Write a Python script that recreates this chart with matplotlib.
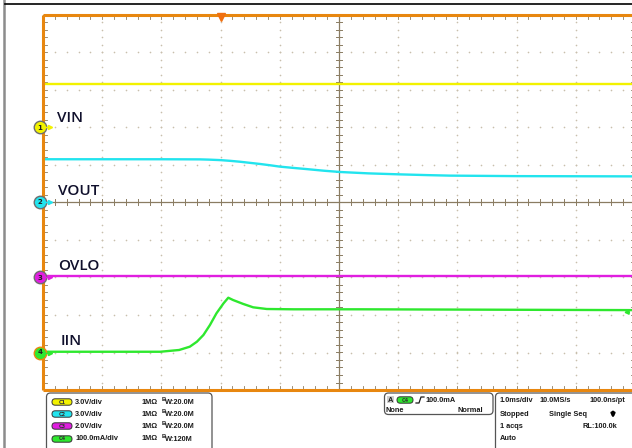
import numpy as np
import matplotlib.pyplot as plt
from matplotlib.patches import FancyBboxPatch, Rectangle

# ---- scope settings ----
t_min, t_max = -3.0, 7.0          # ms, 1.0 ms/div, trigger 3 div from left
ch_names = ["VIN", "VOUT", "OVLO", "IIN"]
ch_scale = [3.0, 3.0, 2.0, 100.0]  # V/div, V/div, V/div, mA/div
ch_pos = [2.0, 0.0, -2.0, -4.0]    # ground marker, divisions from centre
ch_colors = ["#f2f200", "#22e4ee", "#e01ee0", "#2ee82e"]
ch_badge = ["C1", "C2", "C3", "C4"]
ch_scale_txt = ["3.0V/div", "3.0V/div", "2.0V/div", "100.0mA/div"]
ch_bw_txt = ["W:20.0M", "W:20.0M", "W:20.0M", "W:120M"]

# ---- waveforms ----
t_vin = [-3.0, 7.0]
vin = [3.48, 3.48]                 # V

t_vout = [-3.0, -1.0, -0.35, -0.2, 0.0, 0.17, 0.33, 0.5, 0.67, 0.85, 1.0,
          1.2, 1.46, 1.75, 2.02, 2.5, 3.03, 3.5, 3.87, 5.0, 7.0]
vout = [3.46, 3.46, 3.45, 3.43, 3.39, 3.33, 3.26, 3.17, 3.08, 2.97, 2.87,
        2.78, 2.67, 2.54, 2.44, 2.33, 2.25, 2.19, 2.15, 2.11, 2.09]   # V

t_ovlo = [-3.0, 7.0]
ovlo = [0.08, 0.08]                # V

t_iin = [-3.0, -1.02, -0.70, -0.52, -0.40, -0.29, -0.18, -0.07, 0.05, 0.13,
         0.21, 0.38, 0.55, 0.78, 1.23, 2.35, 7.0]
iin = [2, 2, 6.7, 15.5, 28.8, 46.7, 73.3, 104.5, 131.2, 146.1,
       140, 129.6, 120.5, 116, 115.2, 115.2, 113]   # mA

trig_level = 100.0                 # mA on C4

fig = plt.figure(figsize=(6.32, 4.48), dpi=100)
fig.patch.set_facecolor("white")

# background axes in pixel coordinates
bg = fig.add_axes([0, 0, 1, 1])
bg.set_xlim(0, 632)
bg.set_ylim(448, 0)
bg.axis("off")

# scope window border
bg.plot([4, 4], [0, 448], color="#8c8c8c", lw=1.8)
bg.plot([5, 632], [4.5, 4.5], color="black", lw=1.2)

# graticule axes: 10 x 10 divisions
ax = fig.add_axes([43 / 632, (448 - 390) / 448, 592 / 632, 375 / 448])
ax.set_xlim(t_min, t_max)
ax.set_ylim(-5, 5)
ax.axis("off")

dot_col = "#c8bfac"
tick_col = "#8a7c62"

# dotted division lines
minor_y = np.arange(-5, 5.01, 0.2)
minor_x = np.arange(t_min, t_max + 0.01, 0.2)
for xv in range(-2, 7):
    if xv == 2:
        continue
    ax.scatter(np.full(len(minor_y), xv), minor_y, s=1.4, color=dot_col,
               linewidths=0, zorder=1)
for yv in range(-4, 5):
    if yv == 0:
        continue
    ax.scatter(minor_x, np.full(len(minor_x), yv), s=1.4, color=dot_col,
               linewidths=0, zorder=1)

# centre crosshair with ticks
ax.plot([t_min, t_max], [0, 0], color=tick_col, lw=0.9, zorder=2)
ax.plot([2, 2], [-5, 5], color=tick_col, lw=0.9, zorder=2)
dx = 3.0 / 59.2
dy = 3.0 / 37.5
for xv in minor_x:
    ax.plot([xv, xv], [-dy, dy], color=tick_col, lw=0.7, zorder=2)
    ax.plot([xv, xv], [5, 5 - 1.3 * dy], color=tick_col, lw=0.6, zorder=2)
    ax.plot([xv, xv], [-5, -5 + 1.3 * dy], color=tick_col, lw=0.6, zorder=2)
for yv in minor_y:
    ax.plot([2 - dx, 2 + dx], [yv, yv], color=tick_col, lw=0.7, zorder=2)
    ax.plot([t_min, t_min + 1.3 * dx], [yv, yv], color=tick_col, lw=0.6, zorder=2)
    ax.plot([t_max, t_max - 1.3 * dx], [yv, yv], color=tick_col, lw=0.6, zorder=2)

# frame
frame_col = "#e8870f"
for xs, ys in [([t_min, t_max], [5, 5]), ([t_min, t_max], [-5, -5]),
               ([t_min, t_min], [-5, 5]), ([t_max, t_max], [-5, 5])]:
    ax.plot(xs, ys, color=frame_col, lw=2.2, zorder=5, clip_on=False,
            solid_capstyle="butt")

# traces
series = [(t_vin, vin), (t_vout, vout), (t_ovlo, ovlo), (t_iin, iin)]
for i, (tt, vv) in enumerate(series):
    yy = np.array(vv) / ch_scale[i] + ch_pos[i]
    ax.plot(tt, yy, color=ch_colors[i], lw=1.7, zorder=4)

# channel labels
label_y = [2.25, 0.3, -1.7, -3.7]
label_x = [t_min + 14 / 59.2, t_min + 15 / 59.2, t_min + 15 / 59.2, t_min + 18 / 59.2]
for i, name in enumerate(ch_names):
    ax.text(label_x[i], label_y[i], name, fontsize=11, color="#10102c",
            family="Open Sans", fontweight="semibold", va="center", ha="left",
            zorder=6)

# ground markers
for i in range(4):
    edge = "#e8870f" if i == 3 else "#6e6e6e"
    mx = t_min - 3 / 59.2
    ax.plot([mx], [ch_pos[i]], marker="o", ms=9, mfc=ch_colors[i], mec=edge,
            mew=1.0, clip_on=False, zorder=7)
    ax.text(mx, ch_pos[i], str(i + 1), fontsize=5, fontweight="bold",
            ha="center", va="center", color="#202020", zorder=8, clip_on=False)
    ax.plot([t_min + 1 / 59.2, t_min + 7 / 59.2], [ch_pos[i], ch_pos[i]],
            color=ch_colors[i], lw=1.0, zorder=7, clip_on=False)
    ax.plot([t_min + 7 / 59.2], [ch_pos[i]], marker=">", ms=3,
            color=ch_colors[i], zorder=7, clip_on=False)

# trigger position marker and trigger level arrow
ax.plot([0.0], [5 - 2.5 / 37.5], marker="v", ms=6, color="#f07010", zorder=8,
        clip_on=False)
lvl = trig_level / ch_scale[3] + ch_pos[3]
ax.annotate("", xy=(t_max - 14 / 59.2, lvl + 0.07), xytext=(t_max - 3 / 59.2, lvl + 0.07),
            arrowprops=dict(arrowstyle="-|>", color=ch_colors[3], lw=1.2,
                            mutation_scale=6), zorder=8)

# ---- bottom readout panels ----
pf = dict(fontsize=5.3, fontweight="bold", family="Liberation Sans",
          color="#1a1a1a", va="center")

def box(x0, y0, x1, y1):
    bg.add_patch(FancyBboxPatch((x0, y0), x1 - x0, y1 - y0,
                                boxstyle="round,pad=0,rounding_size=4",
                                fc="white", ec="#555555", lw=0.9))

def badge(x, y, w, text, col):
    bg.add_patch(FancyBboxPatch((x, y - 3.2), w, 6.4,
                                boxstyle="round,pad=0,rounding_size=3.2",
                                fc=col, ec="#333333", lw=0.7))
    bg.text(x + w / 2, y, text, fontsize=3.6, fontweight="bold",
            ha="center", va="center", color="#333333")

box(46.5, 393, 212, 452)
row_y = [402, 414, 426, 439]
for i in range(4):
    badge(52, row_y[i], 20, ch_badge[i], ch_colors[i])
    bg.text(75, row_y[i], ch_scale_txt[i], **pf)
    bg.text(142, row_y[i], "1M\u03a9", **pf)
    bg.text(162, row_y[i] - 2.2, "B", fontsize=4.2, fontweight="bold",
            family="Liberation Sans", color="#1a1a1a", va="center")
    bg.text(165, row_y[i] + 0.8, ch_bw_txt[i], **pf)

# trigger box
box(384.5, 393, 493, 414.5)
bg.add_patch(Rectangle((386.5, 396.5), 7, 7, fc="#cfcfcf", ec="none"))
bg.text(390, 400, "A", ha="center", fontsize=5.3, fontweight="bold",
        family="Liberation Sans", color="#1a1a1a", va="center")
badge(397, 400, 16, ch_badge[3], ch_colors[3])
bg.plot([416, 419, 421, 424], [403, 403, 397, 397], color="#1a1a1a", lw=0.9)
bg.text(426, 400, "100.0mA", **pf)
bg.text(386, 411, "None", **pf)
bg.text(483, 411, "Normal", ha="right", **pf)

# acquisition box
box(495.5, 393, 640, 452)
bg.text(500, 401, "1.0ms/div", **pf)
bg.text(540, 401, "10.0MS/s", **pf)
bg.text(625, 401, "100.0ns/pt", ha="right", **pf)
bg.text(500, 414, "Stopped", **pf)
bg.text(549, 414, "Single Seq", **pf)
bg.annotate("", xy=(613, 421), xytext=(613, 409),
            arrowprops=dict(arrowstyle="-|>", color="black", lw=1.8,
                            mutation_scale=5))
bg.text(500, 427, "1 acqs", **pf)
bg.text(617, 427, "RL:100.0k", ha="right", **pf)
bg.text(500, 439, "Auto", **pf)

fig.savefig("out.png", dpi=100)
